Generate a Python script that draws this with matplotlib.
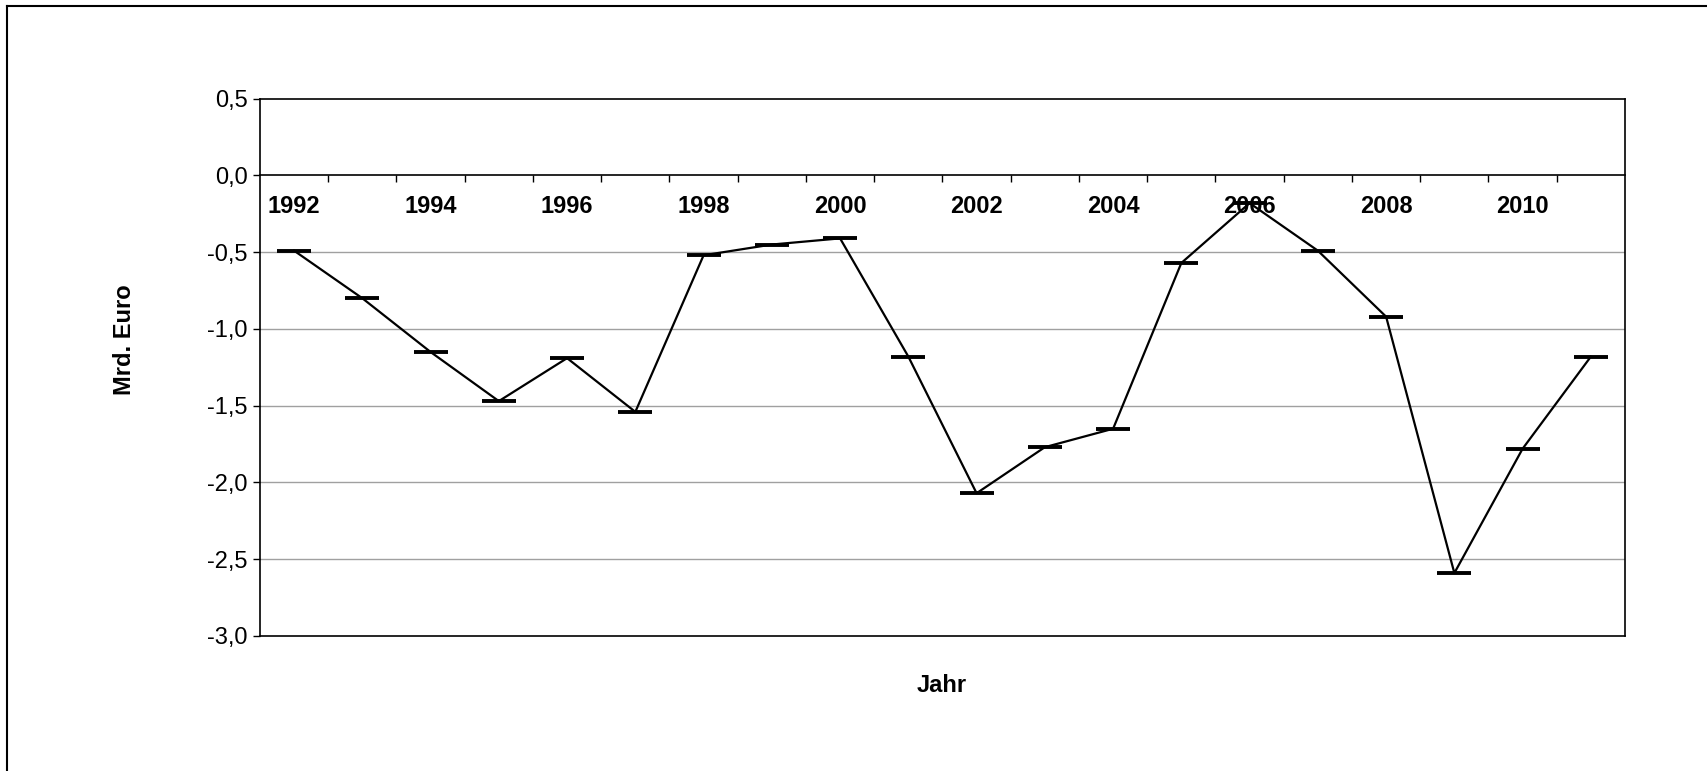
import matplotlib
matplotlib.use("Agg")
import matplotlib.pyplot as plt
from matplotlib.lines import Line2D

plt.rcParams['font.family'] = ['Liberation Sans', 'DejaVu Sans']

# Daten
jahre = list(range(1992, 2012))
saldo = [-0.49, -0.80, -1.15, -1.47, -1.19, -1.54, -0.52, -0.45, -0.41, -1.18,
         -2.07, -1.77, -1.65, -0.57, -0.18, -0.49, -0.92, -2.59, -1.78, -1.18]
y_ticks = [0.5, 0.0, -0.5, -1.0, -1.5, -2.0, -2.5, -3.0]
y_labels = ["0,5", "0,0", "-0,5", "-1,0", "-1,5", "-2,0", "-2,5", "-3,0"]

fig = plt.figure(figsize=(17.08, 7.71), dpi=100)
ax = fig.add_axes([0.1522, 0.1751, 0.9514 - 0.1522, 0.872 - 0.1751])

x = list(range(len(jahre)))
ax.plot(x, saldo, color='black', linewidth=1.6, marker='_', markersize=24,
        markeredgewidth=2.8, zorder=3)

ax.set_xlim(-0.5, len(jahre) - 0.5)
ax.set_ylim(-3.0, 0.5)

# horizontale Gitterlinien
for v in y_ticks:
    if v not in (0.5, 0.0, -3.0):
        ax.axhline(v, color='#a0a0a0', linewidth=1.0, zorder=1)

ax.set_yticks(y_ticks)
ax.set_yticklabels(y_labels, fontsize=17)
ax.tick_params(axis='y', direction='out', length=5, width=1, pad=4)

# x-Achse bei Null
ax.spines['bottom'].set_position(('data', 0))
ax.spines['bottom'].set_linewidth(1.2)
for s in ('left', 'right', 'top'):
    ax.spines[s].set_linewidth(1.2)
ax.axhline(-3.0, color='black', linewidth=1.2, clip_on=False, zorder=2)

ax.set_xticks([i + 0.5 for i in x[:-1]])
ax.set_xticklabels([])
ax.tick_params(axis='x', which='major', direction='out', length=5, width=1)
ax.set_xticks(x, minor=True)
ax.set_xticklabels([str(j) if j % 2 == 0 else "" for j in jahre], minor=True,
                   fontsize=17, fontweight='bold')
ax.tick_params(axis='x', which='minor', length=0, pad=14)

fig.text(0.5515, 1 - 686 / 771, "Jahr", ha='center', va='center',
         fontsize=17, fontweight='bold')
fig.text(125 / 1708, 1 - 340 / 771, "Mrd. Euro", ha='center', va='center',
         rotation=90, fontsize=17, fontweight='bold')

# Rahmen des Diagrammbereichs
fig.add_artist(Line2D([7 / 1708, 7 / 1708], [0, 1 - 6 / 771],
                      transform=fig.transFigure, color='black', linewidth=1.5))
fig.add_artist(Line2D([7 / 1708, 1], [1 - 6 / 771, 1 - 6 / 771],
                      transform=fig.transFigure, color='black', linewidth=1.5))

fig.savefig("out.png", dpi=100)
